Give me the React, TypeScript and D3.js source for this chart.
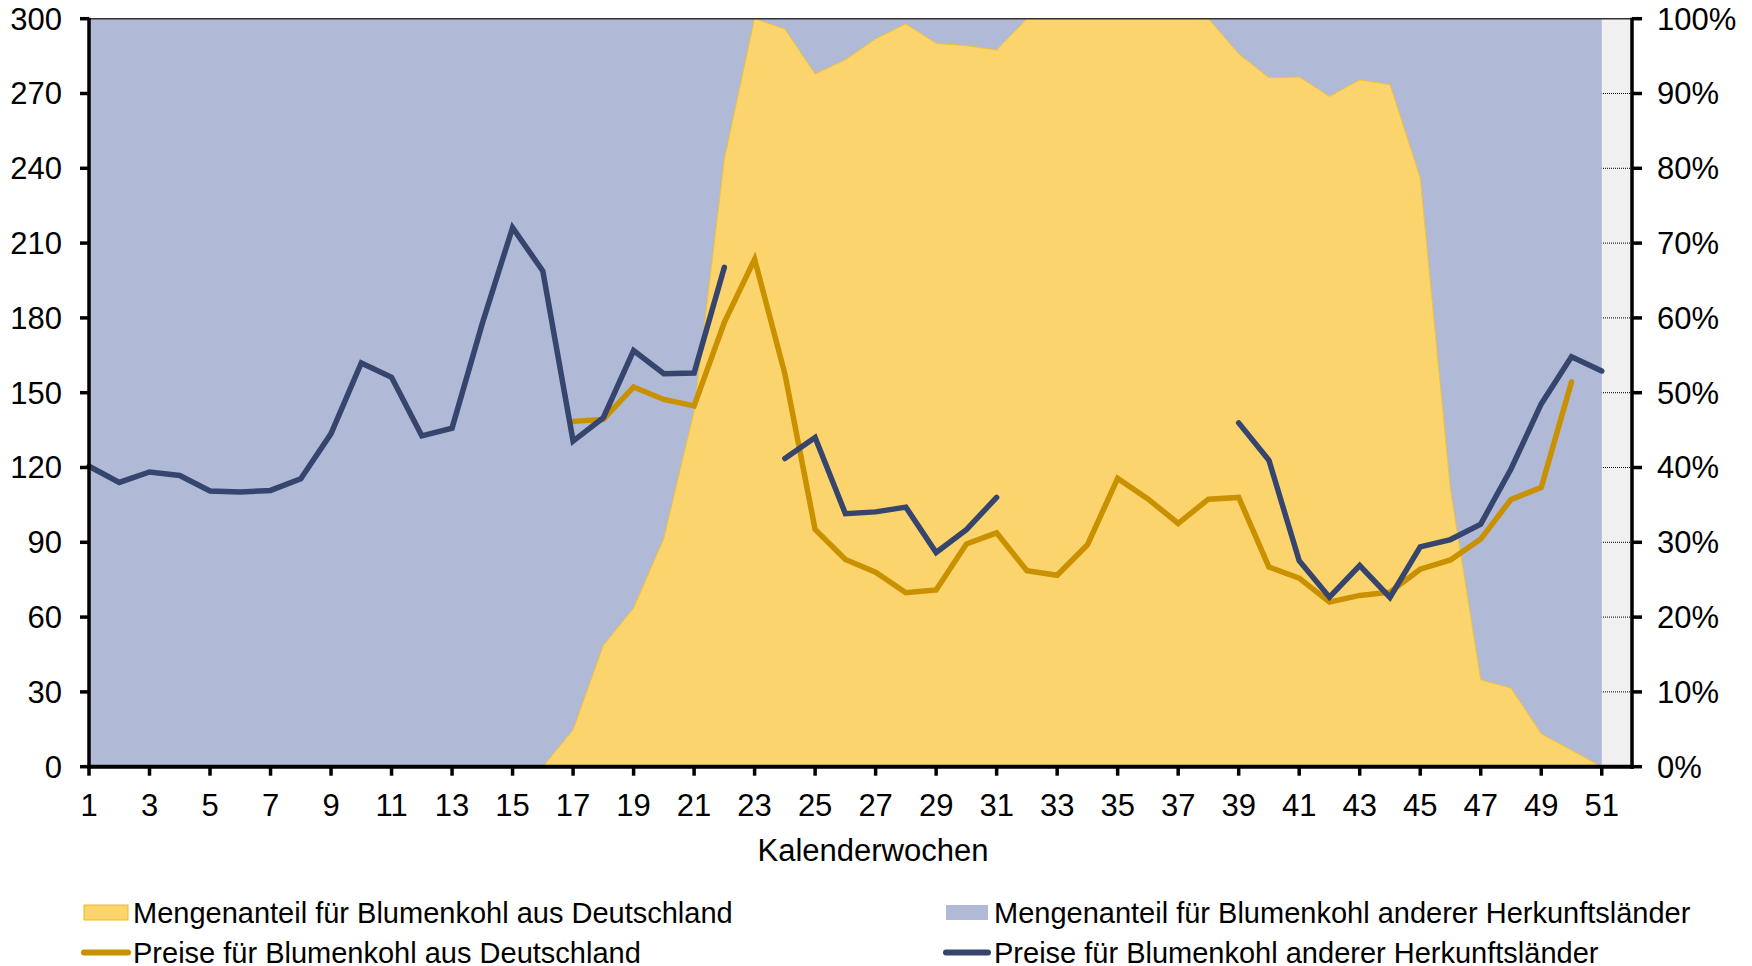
import React from "react";
import * as d3 from "d3";

const weeks = [1,2,3,4,5,6,7,8,9,10,11,12,13,14,15,16,17,18,19,20,21,22,23,24,25,26,27,28,29,30,31,32,33,34,35,36,37,38,39,40,41,42,43,44,45,46,47,48,49,50,51];

// Mengenanteil Deutschland (%)
const shareDE = [0,0,0,0,0,0,0,0,0,0,0,0,0,0,0,0,4.9,16.2,21.2,30.5,47.5,81.2,100,98.6,92.6,94.5,97.3,99.3,96.7,96.4,95.8,100,100,100,100,100,100,100,95.3,92.1,92.2,89.6,91.8,91.2,78.7,37,11.6,10.5,4.4,2.2,0];

// Preise Deutschland
const priceDE: (number | null)[] = [null,null,null,null,null,null,null,null,null,null,null,null,null,null,null,null,138.5,139.3,152.3,147.3,144.7,178.2,203.5,157.6,95.2,83.1,78,69.8,70.9,89.3,93.8,78.6,76.8,89,115.6,107.4,97.6,107.3,108,80.1,75.6,66,68.7,70,79.2,82.9,91.3,107.2,112,154.3,null];

// Preise andere Herkunftsländer
const priceOther: (number | null)[] = [120.5,114,118.2,116.8,110.6,110.2,110.8,115.5,133.6,161.9,156.2,132.7,135.8,177.8,216.2,198.8,130.6,140,166.9,157.6,157.9,200.3,null,123.6,132,101.5,102.2,104.1,85.9,95.1,108,null,null,null,null,null,null,null,137.9,122.9,82.6,68,80.7,67.9,88.2,91.1,97.3,119.4,145.5,164.4,158.7];

const leftTicks = [0,30,60,90,120,150,180,210,240,270,300];
const rightTicks = [0,10,20,30,40,50,60,70,80,90,100];
const xTickWeeks = [1,3,5,7,9,11,13,15,17,19,21,23,25,27,29,31,33,35,37,39,41,43,45,47,49,51];

const legendItems = [
  { label: "Mengenanteil für Blumenkohl aus Deutschland", kind: "area", color: "#FCD46E", stroke: "#E9BC1C" },
  { label: "Mengenanteil für Blumenkohl anderer Herkunftsländer", kind: "area", color: "#B0B9D6", stroke: "none" },
  { label: "Preise für Blumenkohl aus Deutschland", kind: "line", color: "#C99000", stroke: "" },
  { label: "Preise für Blumenkohl anderer Herkunftsländer", kind: "line", color: "#35456E", stroke: "" },
];

const W = 1752, H = 966;
const L = 89, R = 1632, T = 18.7, B = 766.7;
const FONT = "'Liberation Sans', Arial, sans-serif";

export default function App() {
  const x = d3.scaleLinear().domain([1, 52]).range([L, R]);
  const yL = d3.scaleLinear().domain([0, 300]).range([B, T]);
  const yP = d3.scaleLinear().domain([0, 100]).range([B, T]);

  const idx = weeks.map((_, i) => i);
  const blueArea = d3.area<number>()
    .x(i => x(weeks[i]))
    .y0(i => yP(shareDE[i]))
    .y1(() => yP(100))(idx) || "";
  const yellowArea = d3.area<number>()
    .x(i => x(weeks[i]))
    .y0(() => yP(0))
    .y1(i => yP(shareDE[i]))(idx.filter(i => weeks[i] >= 16)) || "";

  const mkLine = (vals: (number | null)[]) =>
    d3.line<number>()
      .defined(i => vals[i] != null)
      .x(i => x(weeks[i]))
      .y(i => yL(vals[i] as number))(idx) || "";

  const fsTick = 31;
  const fsLeg = 29;

  return (
    <svg width={W} height={H} style={{ position: "absolute", left: 0, top: 0, background: "#fff" }} fontFamily={FONT}>
      <rect x={L} y={T} width={R - L} height={B - T} fill="#F0F0F0" />
      {rightTicks.filter(t => t > 0 && t < 100).map(t => (
        <line key={t} x1={L} x2={R} y1={yP(t)} y2={yP(t)} stroke="#000" strokeWidth={1} strokeDasharray="1,1" />
      ))}
      <path d={blueArea} fill="#B0B9D6" />
      <path d={yellowArea} fill="#FCD46E" stroke="#F0C232" strokeWidth={1} />
      <line x1={L} x2={R} y1={T} y2={T} stroke="#333" strokeWidth={1.5} />

      <path d={mkLine(priceDE)} fill="none" stroke="#C99000" strokeWidth={5.5} strokeLinecap="round" strokeLinejoin="miter" />
      <path d={mkLine(priceOther)} fill="none" stroke="#35456E" strokeWidth={5.5} strokeLinecap="round" strokeLinejoin="miter" />

      {/* axes */}
      <line x1={L} x2={L} y1={T - 1} y2={B + 2} stroke="#000" strokeWidth={3.5} />
      <line x1={R} x2={R} y1={T - 1} y2={B + 2} stroke="#000" strokeWidth={3.5} />
      <line x1={L - 2} x2={R + 2} y1={B} y2={B} stroke="#000" strokeWidth={4} />

      {leftTicks.map(t => (
        <g key={"l" + t}>
          <line x1={L - 9} x2={L} y1={yL(t)} y2={yL(t)} stroke="#000" strokeWidth={3.5} />
          <text x={62} y={yL(t)} dy="0.35em" textAnchor="end" fontSize={fsTick} fill="#000">{t}</text>
        </g>
      ))}
      {rightTicks.map(t => (
        <g key={"r" + t}>
          <line x1={R} x2={R + 10} y1={yP(t)} y2={yP(t)} stroke="#000" strokeWidth={3.5} />
          <text x={1657} y={yP(t)} dy="0.35em" textAnchor="start" fontSize={fsTick} fill="#000">{t + "%"}</text>
        </g>
      ))}
      {xTickWeeks.map(w => (
        <g key={"x" + w}>
          <line x1={x(w)} x2={x(w)} y1={B} y2={B + 9} stroke="#000" strokeWidth={3.5} />
          <text x={x(w)} y={816} textAnchor="middle" fontSize={fsTick} fill="#000">{w}</text>
        </g>
      ))}
      <text x={873} y={861} textAnchor="middle" fontSize={fsTick} fill="#000">Kalenderwochen</text>

      {legendItems.map((it, i) => {
        const col = i % 2;
        const row = Math.floor(i / 2);
        const sx = col === 0 ? 84 : 946;
        const sw = col === 0 ? 44 : 42;
        const tx = col === 0 ? 133 : 994;
        const cy = row === 0 ? 912.5 : 952.5;
        return (
          <g key={it.label}>
            {it.kind === "area" ? (
              <rect x={sx} y={cy - 7.5} width={sw} height={15} fill={it.color} stroke={it.stroke} strokeWidth={1} />
            ) : (
              <line x1={sx} x2={sx + sw} y1={cy} y2={cy} stroke={it.color} strokeWidth={6} strokeLinecap="round" />
            )}
            <text x={tx} y={cy + 10} fontSize={fsLeg} fill="#000">{it.label}</text>
          </g>
        );
      })}
    </svg>
  );
}
